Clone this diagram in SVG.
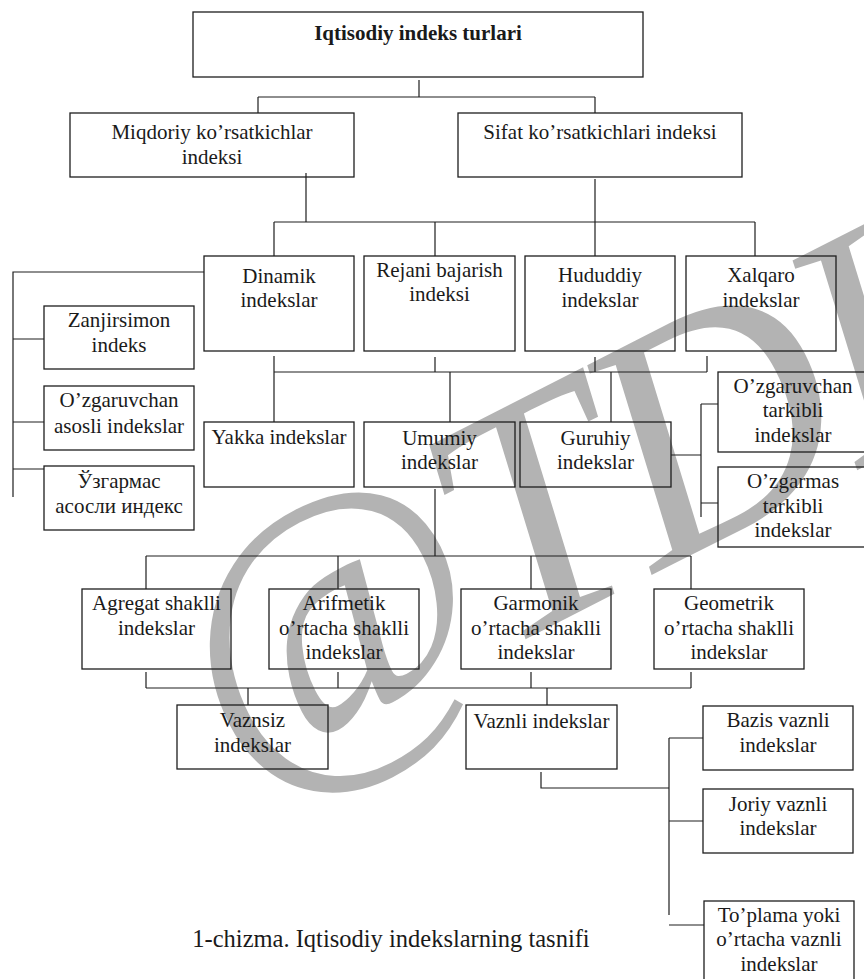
<svg xmlns="http://www.w3.org/2000/svg" width="864" height="979" viewBox="0 0 864 979">
<style>
.wmark{font-family:"Liberation Serif","Times New Roman",serif;font-style:italic;font-size:330px;letter-spacing:-10px;fill:#b3b3b3}
.nbox{fill:none;stroke:#1e1e1e;stroke-width:1.3}
.conn{fill:none;stroke:#1e1e1e;stroke-width:1.2}
.nlab{font-family:"Liberation Serif","Times New Roman",serif;font-size:21px;fill:#1a1a1a;text-anchor:middle}
.nbold{font-weight:bold}
.capt{font-family:"Liberation Serif","Times New Roman",serif;font-size:24.5px;fill:#1a1a1a;text-anchor:middle}
</style>
<rect x="0" y="0" width="864" height="979" fill="#ffffff"/>
<g id="watermark">
<text class="wmark" transform="translate(238.7,785.3) rotate(-27)">@TDI</text>
</g>
<g id="connectors">
<path class="conn" d="M419,80V97M258,97H595M258,97V113M595,97V113"/>
<path class="conn" d="M306,173V222M595,179V256M274,222H755M274,222V256M435,222V256M755,222V256"/>
<path class="conn" d="M204,272H13V497M13,339H44M13,422H44M13,469H44"/>
<path class="conn" d="M274,356V422M435,357V372M595,357V372M707,356V372M274,372H707M450,372V422M611,372V422"/>
<path class="conn" d="M671,455H701M701,404V517M701,404H718M701,503H718"/>
<path class="conn" d="M435,489V556M146,556H691M146,556V589M338,556V589M531,556V589M691,556V589"/>
<path class="conn" d="M146,672V688M338,672V688M531,672V688M691,672V688M146,688H691M248,688V705M547,688V705"/>
<path class="conn" d="M541,772V788H669M669,738V915M669,738H703M669,821H703M669,925H704"/>
</g>
<g id="nodes">
<g id="n-root"><rect class="nbox" x="193" y="12" width="450" height="65"/><text class="nlab nbold" x="418" y="40">Iqtisodiy indeks turlari</text></g>
<g id="n-miqdoriy"><rect class="nbox" x="70" y="113" width="284" height="64"/><text class="nlab" x="212" y="139">Miqdoriy ko’rsatkichlar</text><text class="nlab" x="212" y="164">indeksi</text></g>
<g id="n-sifat"><rect class="nbox" x="458" y="113" width="284" height="64"/><text class="nlab" x="600" y="139">Sifat ko’rsatkichlari indeksi</text></g>
<g id="n-dinamik"><rect class="nbox" x="204" y="256" width="150" height="95"/><text class="nlab" x="279" y="282.5">Dinamik</text><text class="nlab" x="279" y="306.5">indekslar</text></g>
<g id="n-rejani"><rect class="nbox" x="364" y="256" width="151" height="95"/><text class="nlab" x="439.5" y="276.5">Rejani bajarish</text><text class="nlab" x="439.5" y="301">indeksi</text></g>
<g id="n-hududdiy"><rect class="nbox" x="525" y="256" width="150" height="95"/><text class="nlab" x="600" y="281.7">Hududdiy</text><text class="nlab" x="600" y="306.5">indekslar</text></g>
<g id="n-xalqaro"><rect class="nbox" x="686" y="256" width="150" height="95"/><text class="nlab" x="761" y="281.7">Xalqaro</text><text class="nlab" x="761" y="306.5">indekslar</text></g>
<g id="n-zanjir"><rect class="nbox" x="44" y="306" width="150" height="63"/><text class="nlab" x="119" y="327">Zanjirsimon</text><text class="nlab" x="119" y="351.5">indeks</text></g>
<g id="n-ozg-asosli"><rect class="nbox" x="44" y="386" width="150" height="64"/><text class="nlab" x="119" y="406.7">O’zgaruvchan</text><text class="nlab" x="119" y="432.5">asosli indekslar</text></g>
<g id="n-uzgarmas"><rect class="nbox" x="44" y="466" width="150" height="64"/><text class="nlab" x="119" y="488">Ўзгармас</text><text class="nlab" x="119" y="512.5">асосли индекс</text></g>
<g id="n-yakka"><rect class="nbox" x="204" y="422" width="150" height="65"/><text class="nlab" x="279" y="444">Yakka indekslar</text></g>
<g id="n-umumiy"><rect class="nbox" x="364" y="422" width="151" height="65"/><text class="nlab" x="439.5" y="445">Umumiy</text><text class="nlab" x="439.5" y="469">indekslar</text></g>
<g id="n-guruhiy"><rect class="nbox" x="520" y="422" width="151" height="65"/><text class="nlab" x="595.5" y="445">Guruhiy</text><text class="nlab" x="595.5" y="469">indekslar</text></g>
<g id="n-ozg-tarkibli"><rect class="nbox" x="718" y="372" width="150" height="80"/><text class="nlab" x="793" y="393">O’zgaruvchan</text><text class="nlab" x="793" y="417">tarkibli</text><text class="nlab" x="793" y="441.5">indekslar</text></g>
<g id="n-ozgarmas-tarkibli"><rect class="nbox" x="718" y="467" width="150" height="80"/><text class="nlab" x="793" y="488">O’zgarmas</text><text class="nlab" x="793" y="512.5">tarkibli</text><text class="nlab" x="793" y="536.5">indekslar</text></g>
<g id="n-agregat"><rect class="nbox" x="82" y="589" width="149" height="80"/><text class="nlab" x="156.5" y="610">Agregat shaklli</text><text class="nlab" x="156.5" y="635">indekslar</text></g>
<g id="n-arifmetik"><rect class="nbox" x="269" y="589" width="150" height="80"/><text class="nlab" x="344" y="610">Arifmetik</text><text class="nlab" x="344" y="635">o’rtacha shaklli</text><text class="nlab" x="344" y="659">indekslar</text></g>
<g id="n-garmonik"><rect class="nbox" x="461" y="589" width="150" height="80"/><text class="nlab" x="536" y="610">Garmonik</text><text class="nlab" x="536" y="635">o’rtacha shaklli</text><text class="nlab" x="536" y="659">indekslar</text></g>
<g id="n-geometrik"><rect class="nbox" x="654" y="589" width="150" height="80"/><text class="nlab" x="729" y="610">Geometrik</text><text class="nlab" x="729" y="635">o’rtacha shaklli</text><text class="nlab" x="729" y="659">indekslar</text></g>
<g id="n-vaznsiz"><rect class="nbox" x="177" y="705" width="151" height="64"/><text class="nlab" x="252.5" y="727.3">Vaznsiz</text><text class="nlab" x="252.5" y="751.7">indekslar</text></g>
<g id="n-vaznli"><rect class="nbox" x="466" y="705" width="151" height="64"/><text class="nlab" x="541.5" y="728.3">Vaznli indekslar</text></g>
<g id="n-bazis"><rect class="nbox" x="703" y="706" width="150" height="64"/><text class="nlab" x="778" y="726.7">Bazis vaznli</text><text class="nlab" x="778" y="751.7">indekslar</text></g>
<g id="n-joriy"><rect class="nbox" x="703" y="789" width="150" height="64"/><text class="nlab" x="778" y="810.7">Joriy vaznli</text><text class="nlab" x="778" y="835">indekslar</text></g>
<g id="n-toplama"><rect class="nbox" x="704" y="901" width="150" height="90"/><text class="nlab" x="779" y="921.7">To’plama yoki</text><text class="nlab" x="779" y="946">o’rtacha vaznli</text><text class="nlab" x="779" y="970.7">indekslar</text></g>
</g>
<g id="caption"><text class="capt" x="391" y="946.7">1-chizma. Iqtisodiy indekslarning tasnifi</text></g>
</svg>
